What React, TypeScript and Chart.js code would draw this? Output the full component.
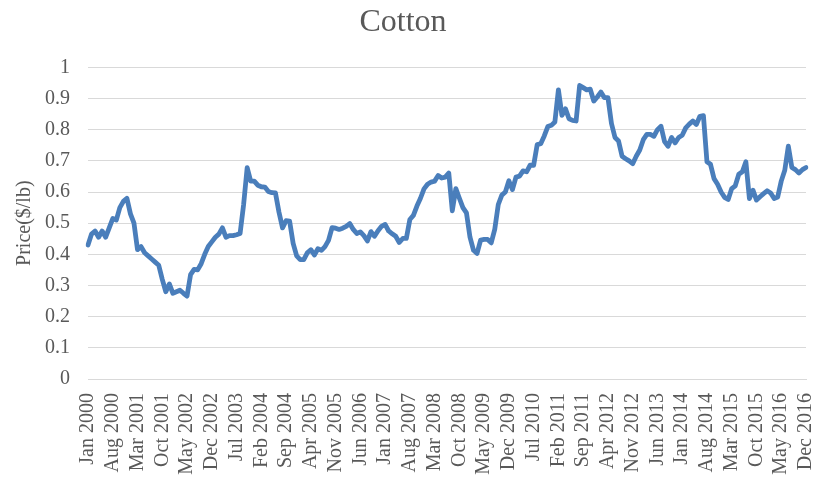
import React, { useEffect, useRef } from "react";
import { Chart, registerables } from "chart.js";

Chart.register(...registerables);

const monthNames = ["Jan", "Feb", "Mar", "Apr", "May", "Jun", "Jul", "Aug", "Sep", "Oct", "Nov", "Dec"];
const years = [2000, 2001, 2002, 2003, 2004, 2005, 2006, 2007, 2008, 2009, 2010, 2011, 2012, 2013, 2014, 2015, 2016];
const categories: string[] = years.flatMap((y) => monthNames.map((m) => `${m} ${y}`));

// Cotton price, $/lb, monthly Jan 2000 - Dec 2016
const prices = [
  0.43, 0.465, 0.475, 0.455, 0.475, 0.455, 0.485, 0.515, 0.51, 0.55, 0.57, 0.58,
  0.53, 0.5, 0.415, 0.425, 0.405, 0.395, 0.385, 0.375, 0.365, 0.32, 0.28, 0.305,
  0.275, 0.28, 0.285, 0.275, 0.266, 0.335, 0.352, 0.35, 0.37, 0.4, 0.425, 0.44,
  0.455, 0.465, 0.485, 0.455, 0.46, 0.46, 0.463, 0.467, 0.56, 0.678, 0.635, 0.635,
  0.622, 0.617, 0.616, 0.602, 0.598, 0.597, 0.535, 0.485, 0.508, 0.507, 0.435, 0.395,
  0.383, 0.383, 0.405, 0.415, 0.398, 0.418, 0.413, 0.425, 0.445, 0.486, 0.484, 0.48,
  0.484, 0.49, 0.499, 0.48, 0.467, 0.472, 0.46, 0.443, 0.473, 0.458, 0.476, 0.49,
  0.496, 0.475, 0.466, 0.458, 0.438, 0.451, 0.451, 0.512, 0.525, 0.555, 0.58, 0.61,
  0.625, 0.632, 0.635, 0.653, 0.645, 0.648, 0.661, 0.54, 0.611, 0.58, 0.55, 0.533,
  0.455, 0.413, 0.403, 0.446, 0.448, 0.448, 0.437, 0.48, 0.56, 0.59, 0.6, 0.636,
  0.608, 0.648, 0.651, 0.668, 0.665, 0.686, 0.686, 0.752, 0.755, 0.78, 0.81, 0.814,
  0.825, 0.928, 0.846, 0.867, 0.835, 0.83, 0.828, 0.942, 0.935, 0.928, 0.93, 0.892,
  0.905, 0.921, 0.903, 0.903, 0.82, 0.775, 0.764, 0.715, 0.707, 0.7, 0.691, 0.715,
  0.735, 0.768, 0.785, 0.785, 0.779, 0.8, 0.811, 0.762, 0.747, 0.775, 0.758, 0.775,
  0.782, 0.806, 0.818, 0.828, 0.817, 0.843, 0.845, 0.697, 0.689, 0.643, 0.625, 0.6,
  0.583, 0.576, 0.611, 0.62, 0.657, 0.665, 0.697, 0.579, 0.606, 0.574, 0.585, 0.595,
  0.604, 0.597, 0.579, 0.584, 0.635, 0.67, 0.747, 0.679, 0.672, 0.661, 0.672, 0.679,
];

const tickLabels = [
  "Jan 2000", "Aug 2000", "Mar 2001", "Oct 2001", "May 2002", "Dec 2002", "Jul 2003", "Feb 2004",
  "Sep 2004", "Apr 2005", "Nov 2005", "Jun 2006", "Jan 2007", "Aug 2007", "Mar 2008", "Oct 2008",
  "May 2009", "Dec 2009", "Jul 2010", "Feb 2011", "Sep 2011", "Apr 2012", "Nov 2012", "Jun 2013",
  "Jan 2014", "Aug 2014", "Mar 2015", "Oct 2015", "May 2016", "Dec 2016",
];

const TEXT = "#595959";
const FONT = "'Liberation Serif', 'Times New Roman', serif";

export default function App() {
  const ref = useRef<HTMLCanvasElement>(null);

  useEffect(() => {
    document.body.style.margin = "0";
    const ctx = ref.current!;
    const chart = new Chart(ctx, {
      type: "line",
      data: {
        labels: categories,
        datasets: [
          {
            label: "Cotton",
            data: prices,
            borderColor: "#4a7ebb",
            borderWidth: 4.8,
            pointRadius: 0,
            tension: 0,
            borderJoinStyle: "round",
            borderCapStyle: "round",
            fill: false,
          },
        ],
      },
      options: {
        animation: false,
        responsive: false,
        maintainAspectRatio: false,
        layout: { padding: { left: 0, right: 20, top: 0, bottom: 0 } },
        plugins: {
          legend: { display: false },
          tooltip: { enabled: false },
          title: {
            display: true,
            text: "Cotton",
            color: TEXT,
            font: { family: FONT, size: 32, weight: "normal" },
            padding: { top: 3, bottom: 26 },
          },
        },
        scales: {
          x: {
            type: "category",
            offset: false,
            grid: { display: false, drawTicks: false },
            border: { display: true, color: "#d9d9d9", width: 1 },
            ticks: {
              autoSkip: false,
              minRotation: 90,
              maxRotation: 90,
              padding: 14,
              color: TEXT,
              font: { family: FONT, size: 20 },
              callback: (_v: any, i: number) => (i % 7 === 0 ? tickLabels[i / 7] : null),
            },
            afterFit: (s: any) => {
              s.height = 102;
              s.paddingLeft = 0;
              s.paddingRight = 0;
            },
          },
          y: {
            min: 0,
            max: 1,
            grid: { color: "#d9d9d9", lineWidth: 1, drawTicks: false },
            border: { display: false },
            ticks: {
              stepSize: 0.1,
              padding: 18,
              color: TEXT,
              font: { family: FONT, size: 20 },
              callback: (v: any) => String(Math.round(Number(v) * 10) / 10),
            },
            title: {
              display: true,
              text: "Price($/lb)",
              color: TEXT,
              font: { family: FONT, size: 20 },
              padding: { top: 13, bottom: 0 },
            },
            afterFit: (s: any) => {
              s.width = 88;
            },
          },
        },
      },
    });
    return () => chart.destroy();
  }, []);

  return (
    <div style={{ width: 826, height: 481, background: "#fff" }}>
      <canvas ref={ref} width={826} height={481} style={{ display: "block" }} />
    </div>
  );
}
